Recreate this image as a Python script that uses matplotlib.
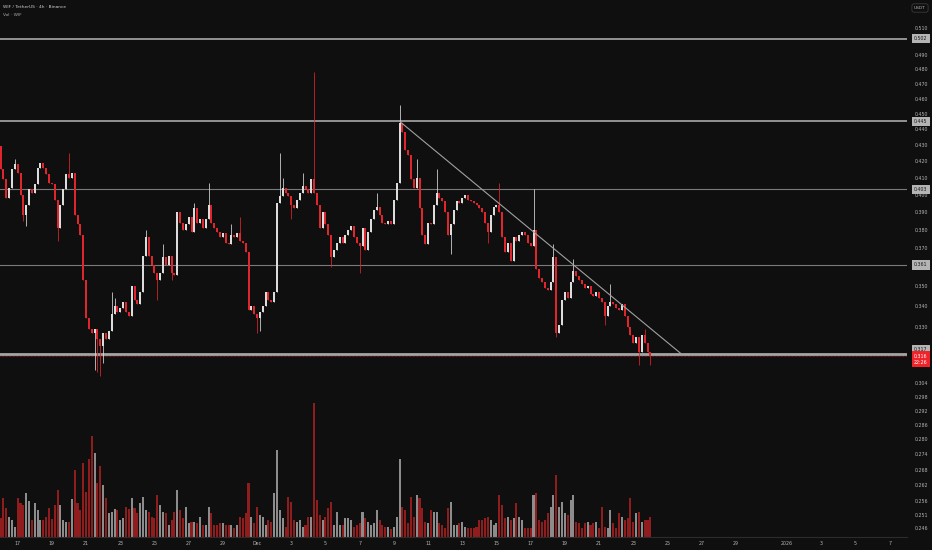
import numpy as np
import pandas as pd
import matplotlib
matplotlib.use("Agg")
import matplotlib.pyplot as plt

# ---------------- data ----------------
start_time = pd.Timestamp("2025-11-16 00:00")
first_open = 0.429
closes = [
    0.415, 0.409, 0.398, 0.404, 0.415, 0.418, 0.413, 0.400, 0.388, 0.394,
    0.403, 0.401, 0.406, 0.416, 0.419, 0.416, 0.412, 0.407, 0.406, 0.397,
    0.381, 0.394, 0.403, 0.412, 0.410, 0.413, 0.388, 0.383, 0.377, 0.353,
    0.334, 0.329, 0.327, 0.329, 0.324, 0.321, 0.327, 0.324, 0.328, 0.336,
    0.340, 0.337, 0.339, 0.342, 0.337, 0.335, 0.350, 0.343, 0.341, 0.347,
    0.366, 0.376, 0.366, 0.361, 0.357, 0.353, 0.357, 0.365, 0.361, 0.366,
    0.357, 0.356, 0.390, 0.384, 0.380, 0.383, 0.387, 0.379, 0.392, 0.384,
    0.386, 0.381, 0.386, 0.394, 0.384, 0.381, 0.379, 0.376, 0.378, 0.373,
    0.372, 0.377, 0.376, 0.378, 0.374, 0.373, 0.368, 0.338, 0.340, 0.336,
    0.334, 0.337, 0.340, 0.347, 0.343, 0.342, 0.347, 0.395, 0.399, 0.404,
    0.401, 0.399, 0.394, 0.392, 0.397, 0.401, 0.405, 0.403, 0.401, 0.409,
    0.401, 0.394, 0.381, 0.390, 0.383, 0.377, 0.365, 0.369, 0.373, 0.376,
    0.373, 0.377, 0.380, 0.382, 0.376, 0.373, 0.371, 0.381, 0.369, 0.379,
    0.386, 0.391, 0.393, 0.388, 0.384, 0.383, 0.385, 0.383, 0.397, 0.407,
    0.444, 0.438, 0.427, 0.424, 0.409, 0.404, 0.410, 0.392, 0.377, 0.372,
    0.384, 0.383, 0.394, 0.401, 0.398, 0.396, 0.390, 0.377, 0.383, 0.391,
    0.396, 0.395, 0.398, 0.400, 0.397, 0.396, 0.395, 0.394, 0.392, 0.390,
    0.384, 0.379, 0.388, 0.393, 0.394, 0.390, 0.376, 0.368, 0.373, 0.363,
    0.376, 0.374, 0.377, 0.379, 0.377, 0.373, 0.371, 0.380, 0.359, 0.354,
    0.352, 0.349, 0.348, 0.352, 0.365, 0.327, 0.331, 0.343, 0.347, 0.344,
    0.352, 0.358, 0.355, 0.353, 0.351, 0.349, 0.350, 0.346, 0.345, 0.347,
    0.344, 0.342, 0.335, 0.340, 0.342, 0.341, 0.339, 0.338, 0.341, 0.335,
    0.330, 0.326, 0.322, 0.325, 0.318, 0.326, 0.322, 0.318, 0.316,
]
volumes = [
    19, 39, 29, 20, 17, 10, 39, 34, 32, 44,
    36, 17, 34, 27, 17, 17, 20, 29, 18, 32,
    47, 32, 17, 15, 15, 38, 67, 34, 27, 75,
    45, 79, 102, 85, 54, 72, 52, 39, 24, 25,
    28, 27, 17, 19, 30, 28, 39, 29, 24, 34,
    40, 27, 25, 20, 19, 42, 32, 25, 24, 12,
    17, 25, 47, 27, 19, 30, 14, 15, 15, 14,
    20, 12, 12, 30, 24, 12, 12, 14, 14, 12,
    12, 12, 9, 12, 20, 19, 24, 54, 20, 14,
    30, 22, 20, 12, 17, 15, 44, 88, 27, 19,
    10, 40, 35, 17, 15, 17, 10, 12, 20, 20,
    135, 37, 22, 17, 20, 29, 35, 12, 25, 12,
    12, 19, 19, 17, 10, 12, 14, 25, 19, 15,
    12, 14, 27, 17, 12, 10, 10, 8, 10, 20,
    79, 30, 27, 14, 40, 20, 42, 39, 29, 15,
    14, 27, 25, 25, 14, 12, 9, 29, 35, 12,
    12, 14, 15, 10, 9, 9, 9, 10, 17, 17,
    19, 20, 17, 12, 14, 42, 32, 19, 20, 17,
    19, 34, 20, 17, 9, 9, 9, 42, 44, 17,
    15, 17, 24, 30, 42, 62, 30, 35, 24, 22,
    37, 42, 15, 14, 9, 14, 15, 12, 14, 15,
    9, 30, 10, 9, 27, 14, 9, 24, 20, 17,
    19, 39, 15, 24, 25, 15, 17, 17, 20,
]
wick_highs = {5: 0.421, 24: 0.425, 39: 0.347, 40: 0.344, 51: 0.380, 57: 0.372,
              68: 0.395, 73: 0.407, 81: 0.383, 84: 0.387, 98: 0.425, 99: 0.410,
              106: 0.413, 110: 0.478, 132: 0.401, 140: 0.456, 146: 0.421,
              153: 0.415, 175: 0.407, 187: 0.403, 194: 0.372, 201: 0.364,
              214: 0.351, 226: 0.329}
wick_lows = {8: 0.385, 9: 0.382, 20: 0.374, 33: 0.310, 34: 0.309, 35: 0.307,
             36: 0.313, 55: 0.343, 60: 0.353, 90: 0.327, 91: 0.328, 102: 0.386,
             116: 0.360, 126: 0.357, 158: 0.367, 171: 0.373, 195: 0.325,
             212: 0.331, 224: 0.312, 228: 0.312}

levels = [0.502, 0.445, 0.403, 0.361, 0.317]
level_labels = ["0.502", "0.445", "0.403", "0.361", "0.317"]
trend_times = ["2025-12-09 08:00", "2025-12-25 20:00"]
trend_prices = [0.445, 0.317]
last_price = 0.316
countdown = "22:26"

ytick_values = [0.510, 0.490, 0.480, 0.470, 0.460, 0.450, 0.440, 0.430, 0.420,
                0.410, 0.400, 0.390, 0.380, 0.370, 0.350, 0.340, 0.330, 0.304,
                0.298, 0.292, 0.286, 0.280, 0.274, 0.268, 0.262, 0.256, 0.251, 0.246]
xtick_dates = ["2025-11-17", "2025-11-19", "2025-11-21", "2025-11-23", "2025-11-25",
               "2025-11-27", "2025-11-29", "2025-12-01", "2025-12-03", "2025-12-05",
               "2025-12-07", "2025-12-09", "2025-12-11", "2025-12-13", "2025-12-15",
               "2025-12-17", "2025-12-19", "2025-12-21", "2025-12-23", "2025-12-25",
               "2025-12-27", "2025-12-29", "2026-01-01", "2026-01-03", "2026-01-05",
               "2026-01-07"]
xtick_labels = ["17", "19", "21", "23", "25", "27", "29", "Dec", "3", "5", "7", "9",
                "11", "13", "15", "17", "19", "21", "23", "25", "27", "29", "2026",
                "3", "5", "7"]

# ---------------- style ----------------
BG = "#0f0f0f"
UP = "#dcdcdc"
DOWN = "#e0262c"
VUP = "#8c8c8c"
VDOWN = "#8f1d1d"
TXT = "#b4b4b4"
FS = 3.4

W, H = 932, 550
fig = plt.figure(figsize=(W / 100, H / 100), dpi=100, facecolor=BG)
plot_right = 907
plot_bottom = 537
ax = fig.add_axes([0, (H - plot_bottom) / H, plot_right / W, plot_bottom / H])
ax.set_facecolor(BG)
axv = ax.twinx()
axv.set_zorder(0)
ax.set_zorder(1)
ax.patch.set_visible(False)
axv.set_facecolor(BG)

n = len(closes)
idx = np.arange(n)
opens = np.array([first_open] + closes[:-1])
cl = np.array(closes)
hi = np.maximum(opens, cl)
lo = np.minimum(opens, cl)
highs = hi.copy()
lows = lo.copy()
for k, v in wick_highs.items():
    highs[k] = v
for k, v in wick_lows.items():
    lows[k] = v
up = cl >= opens
colors = np.where(up, UP, DOWN)

def to_idx(ts):
    return (pd.Timestamp(ts) - start_time) / pd.Timedelta(hours=4)

# volume
vcol = np.where(up, VUP, VDOWN)
axv.bar(idx, volumes, width=0.72, color=vcol, linewidth=0)
axv.set_ylim(0, max(volumes) * plot_bottom / 134.0)
axv.axis("off")

# wicks
ax.vlines(idx, lows, highs, colors=colors, linewidth=0.55, zorder=3)
# bodies
body_bot = lo.copy()
body_top = np.maximum(hi, lo * 1.0025)
ax.bar(idx, body_top - body_bot, bottom=body_bot, width=0.7, color=colors,
       linewidth=0, zorder=4)

ax.set_yscale("log")
ax.set_ylim(0.24292, 0.5310)
ax.set_xlim(-0.2, plot_right / 2.85 - 0.2)
axv.set_xlim(ax.get_xlim())

# horizontal levels
lstyles = [(1.2, "#a8a8a8"), (1.2, "#a8a8a8"), (0.8, "#7a7a7a"), (0.8, "#7a7a7a"), (2.0, "#a5a5a5")]
for lv, (lw, c) in zip(levels, lstyles):
    ax.axhline(lv, color=c, linewidth=lw, zorder=2)
# last price line
ax.axhline(last_price, color="#c0242a", linewidth=0.5, linestyle=(0, (1, 1)), zorder=2)

# trend line
tx = [to_idx(t) for t in trend_times]
ax.plot(tx, trend_prices, color="#a0a0a0", linewidth=0.8, zorder=5)

# y axis on right
ax.yaxis.tick_right()
ax.yaxis.set_minor_locator(matplotlib.ticker.NullLocator())
ax.set_yticks(ytick_values)
ax.set_yticklabels([f"{v:.3f}" for v in ytick_values])
ax.tick_params(axis="y", length=0, pad=5.6, labelsize=FS, labelcolor=TXT)
ax.yaxis.set_minor_formatter(matplotlib.ticker.NullFormatter())

# x axis
ax.set_xticks([to_idx(d) for d in xtick_dates])
ax.set_xticklabels(xtick_labels)
ax.tick_params(axis="x", length=0, pad=2.8, labelsize=FS, labelcolor=TXT)

for s in ["top", "left", "right"]:
    ax.spines[s].set_visible(False)
ax.spines["bottom"].set_color("#2c2c2c")
ax.spines["bottom"].set_linewidth(0.8)

# price labels on right axis
box_off = 10.0
offsets_y = [0, 0, 0, 0, 3.6]
for lv, lab, dy in zip(levels, level_labels, offsets_y):
    ax.annotate(lab, xy=(1, lv), xycoords=("axes fraction", "data"),
                xytext=(box_off, dy), textcoords="offset points",
                ha="center", va="center", fontsize=FS, color="#1a1a1a",
                annotation_clip=False, zorder=10,
                bbox=dict(boxstyle="square,pad=0.45", fc="#b4b4b4", ec="none"))
ax.annotate(f"{last_price:.3f}\n{countdown}", xy=(1, last_price),
            xycoords=("axes fraction", "data"), xytext=(box_off, -2.2),
            textcoords="offset points", ha="center", va="center", fontsize=FS,
            color="white", linespacing=1.45, annotation_clip=False, zorder=11,
            bbox=dict(boxstyle="square,pad=0.45", fc="#f0232b", ec="none"))

# USDT box
fig.text(920 / W, 1 - 8 / H, "USDT", ha="center", va="center", fontsize=3.2,
         color=TXT, bbox=dict(boxstyle="round,pad=0.5", fc=BG, ec="#3a3a3a", lw=0.6))

# title texts
fig.text(3 / W, 1 - 7 / H, "WIF / TetherUS · 4h · Binance", ha="left", va="center",
         fontsize=3.2, color="#cfcfcf")
fig.text(3 / W, 1 - 15 / H, "Vol · WIF", ha="left", va="center",
         fontsize=3.2, color="#a8a8a8")

fig.savefig("out.png", dpi=100, facecolor=BG)
